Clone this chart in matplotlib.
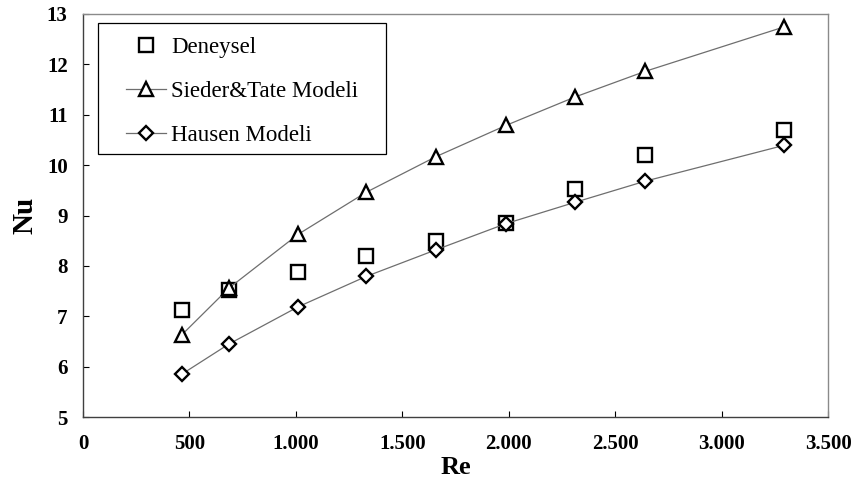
import matplotlib
matplotlib.use("Agg")
import matplotlib.pyplot as plt
from matplotlib.patches import Rectangle
from matplotlib.ticker import FuncFormatter

plt.rcParams['font.family'] = ['Liberation Serif', 'DejaVu Serif']

# Reynolds numbers and Nusselt values
re = [464, 686, 1012, 1330, 1659, 1988, 2310, 2640, 3291]
nu_deneysel = [7.13, 7.52, 7.88, 8.19, 8.49, 8.85, 9.53, 10.20, 10.69]
nu_sieder = [6.63, 7.56, 8.63, 9.46, 10.17, 10.79, 11.35, 11.86, 12.74]
nu_hausen = [5.85, 6.45, 7.19, 7.79, 8.32, 8.84, 9.26, 9.68, 10.39]

x_ticks = [0, 500, 1000, 1500, 2000, 2500, 3000, 3500]
y_ticks = [5, 6, 7, 8, 9, 10, 11, 12, 13]

fig = plt.figure(figsize=(8.53, 4.84), dpi=100)
ax = fig.add_axes([0.0973, 0.1384, 0.8734, 0.8327])

ax.plot(re, nu_deneysel, linestyle='none', marker='s', markersize=10.5,
        markerfacecolor='none', markeredgecolor='black', markeredgewidth=1.7,
        label='Deneysel')
ax.plot(re, nu_sieder, color='#6e6e6e', linewidth=0.9, marker='^', markersize=9.5,
        markerfacecolor='white', markeredgecolor='black', markeredgewidth=1.7,
        label='Sieder&Tate Modeli')
ax.plot(re, nu_hausen, color='#6e6e6e', linewidth=0.9, marker='D', markersize=6.8,
        markerfacecolor='white', markeredgecolor='black', markeredgewidth=1.7,
        label='Hausen Modeli')

ax.set_xlim(0, 3500)
ax.set_ylim(5, 13)
ax.set_xticks(x_ticks)
ax.set_yticks(y_ticks)
ax.xaxis.set_major_formatter(FuncFormatter(lambda v, p: f"{int(v):,}".replace(',', '.')))

ax.tick_params(direction='in', length=4, width=0.8, labelsize=15)
ax.tick_params(axis='x', pad=12)
ax.tick_params(axis='y', pad=11)
for lab in ax.get_xticklabels() + ax.get_yticklabels():
    lab.set_fontweight('bold')

for side in ['left', 'bottom']:
    ax.spines[side].set_color('#404040')
    ax.spines[side].set_linewidth(1.0)
for side in ['top', 'right']:
    ax.spines[side].set_color('#8a8a8a')
    ax.spines[side].set_linewidth(1.0)

ax.set_xlabel('Re', fontsize=19, fontweight='bold', labelpad=2)
ax.set_ylabel('Nu', fontsize=21, fontweight='bold', labelpad=6)

leg = ax.legend(loc='upper left', bbox_to_anchor=(0.058, 0.944), frameon=False,
                fontsize=16.5, borderpad=0, borderaxespad=0, handlelength=1.75,
                handletextpad=0.2, labelspacing=1.02)

ax.add_patch(Rectangle((0.020, 0.653), 0.387, 0.325, transform=ax.transAxes,
                       fill=False, edgecolor='black', linewidth=0.9, zorder=5))

fig.savefig('out.png', dpi=100)
